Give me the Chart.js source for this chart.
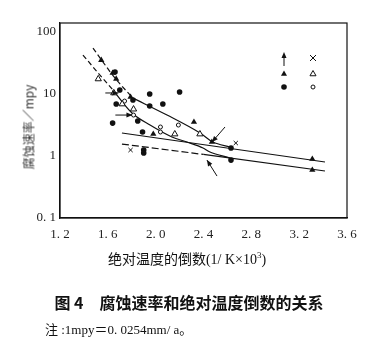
<!DOCTYPE html>
<html><head><meta charset="utf-8">
<script src="https://cdn.jsdelivr.net/npm/chart.js@4"></script>
<style>
html,body{margin:0;padding:0;background:#fff;}
#wrap{position:relative;width:382px;height:344px;overflow:hidden;}
canvas{position:absolute;left:0;top:0;}
.t{position:absolute;white-space:nowrap;color:#111;font-family:"Liberation Serif","Noto Sans CJK SC",serif;}
#ytitle{left:28px;top:127px;font-size:12px;color:#333;transform:translate(-50%,-50%) rotate(-90deg);font-family:"Noto Sans CJK SC",sans-serif;}
#xtitle{left:187px;top:258px;font-size:14px;transform:translate(-50%,-50%);}
#xtitle sup{font-size:9px;vertical-align:6px;line-height:0;}
#cap{left:189px;top:302px;font-size:16px;font-weight:bold;transform:translate(-50%,-50%);font-family:"Noto Sans CJK SC",sans-serif;}
#note{left:45px;top:328px;font-size:13px;transform:translate(0,-50%);}
</style></head><body>
<div id="wrap">
<canvas id="c" width="382" height="344"></canvas>
<div class="t" id="ytitle">腐蚀速率／mpy</div>
<div class="t" id="xtitle">绝对温度的倒数(1/ K×10<sup>3</sup>)</div>
<div class="t" id="cap">图 4　腐蚀速率和绝对温度倒数的关系</div>
<div class="t" id="note">注 :1mpy＝0. 0254mm/ a。</div>
</div>
<script>
const xTicks = [1.2, 1.6, 2.0, 2.4, 2.8, 3.2, 3.6];
const xTickLabels = ["1. 2", "1. 6", "2. 0", "2. 4", "2. 8", "3. 2", "3. 6"];
const yTicks = [0.1, 1, 10, 100];
const yTickLabels = ["0. 1", "1", "10", "100"];

const solidCircleX = [1.66, 1.70, 1.95, 2.20, 1.95, 2.06, 1.67, 1.81, 1.64, 1.85, 1.89, 1.90, 1.90, 2.63, 2.63];
const solidCircleY = [22.6, 11.6, 10.0, 10.8, 6.4, 6.9, 6.9, 8.0, 3.4, 3.67, 2.44, 1.25, 1.12, 0.86, 1.35];
const solidTriX = [1.545, 1.64, 1.67, 1.79, 2.32, 1.98, 2.47, 3.31, 3.31];
const solidTriY = [35.3, 21.8, 17.5, 8.95, 3.54, 2.26, 1.68, 0.895, 0.594];
const openTriX = [1.52, 1.65, 1.72, 1.815, 2.16, 2.37];
const openTriY = [17.5, 10.4, 6.9, 5.7, 2.26, 2.26];
const openCircleX = [2.04, 2.04, 2.19, 1.74, 1.815];
const openCircleY = [2.94, 2.44, 3.16, 7.7, 4.58];
const crossX = [1.79, 2.67];
const crossY = [1.25, 1.62];

const upperDashX = [1.476, 1.66, 1.81];
const upperDashY = [55, 18.1, 8.6];
const upperCurveX = [1.81, 2.095, 2.371, 2.479, 2.621];
const upperCurveY = [8.6, 4.58, 2.35, 1.68, 1.40];
const lowerDashX = [1.392, 1.534, 1.643];
const lowerDashY = [42.6, 20.2, 11.6];
const lowerCurveX = [1.643, 1.802, 1.953, 2.136, 2.262, 2.396, 2.454, 2.621];
const lowerCurveY = [11.6, 4.94, 3.16, 2.03, 1.68, 1.35, 1.16, 0.93];
const lineAX = [1.718, 3.416];
const lineAY = [2.35, 0.80];
const lineBDashX = [1.718, 2.40];
const lineBDashY = [1.56, 1.06];
const lineBX = [2.40, 3.416];
const lineBY = [1.06, 0.573];

const arrow1X = [1.579, 1.688], arrow1Y = [10.4, 10.4];
const arrow2X = [1.663, 1.806], arrow2Y = [4.58, 4.58];
const arrow3X = [2.58, 2.471], arrow3Y = [2.94, 1.68];
const arrow4X = [2.513, 2.429], arrow4Y = [0.475, 0.86];

const pts = (xs, ys) => xs.map((x, i) => ({x, y: ys[i]}));
const INK = '#111';

function lineDs(xs, ys, dash, tension) {
  return {type: 'line', data: pts(xs, ys), borderColor: INK, borderWidth: 1.2,
    borderDash: dash || [], pointRadius: 0, tension: tension || 0,
    cubicInterpolationMode: 'monotone', fill: false};
}
function arrowDs(xs, ys) {
  const d = lineDs(xs, ys, [], 0); d.isArrow = true; d.borderWidth = 1; return d;
}
function markDs(xs, ys, style, r, fillC, bw) {
  return {type: 'scatter', data: pts(xs, ys), pointStyle: style, pointRadius: r,
    backgroundColor: fillC, borderColor: INK, borderWidth: bw};
}

function drawHead(ctx, x, y, ang, len, half) {
  ctx.save(); ctx.translate(x, y); ctx.rotate(ang);
  ctx.beginPath(); ctx.moveTo(0, 0); ctx.lineTo(-len, -half); ctx.lineTo(-len, half); ctx.closePath();
  ctx.fillStyle = INK; ctx.fill(); ctx.restore();
}
function tri(ctx, x, y, r, filled) {
  ctx.beginPath();
  ctx.moveTo(x, y - r); ctx.lineTo(x + r * 0.866, y + r * 0.5); ctx.lineTo(x - r * 0.866, y + r * 0.5); ctx.closePath();
  if (filled) { ctx.fillStyle = INK; ctx.fill(); } else { ctx.fillStyle = '#fff'; ctx.fill(); ctx.stroke(); }
}

const framePlugin = {
  id: 'frame',
  afterDatasetsDraw(chart) {
    const {ctx, chartArea: a} = chart;
    ctx.save();
    ctx.strokeStyle = INK; ctx.lineWidth = 1.2;
    ctx.strokeRect(a.left, a.top, a.right - a.left, a.bottom - a.top);
    chart.data.datasets.forEach((ds, i) => {
      if (!ds.isArrow) return;
      const p = chart.getDatasetMeta(i).data;
      const ang = Math.atan2(p[1].y - p[0].y, p[1].x - p[0].x);
      drawHead(ctx, p[1].x, p[1].y, ang, 6, 2.5);
    });
    const lx1 = a.left + 224, lx2 = a.left + 253;
    ctx.lineWidth = 1;
    ctx.beginPath(); ctx.moveTo(lx1, a.top + 43); ctx.lineTo(lx1, a.top + 32); ctx.stroke();
    drawHead(ctx, lx1, a.top + 29, -Math.PI / 2, 6, 2.5);
    ctx.beginPath();
    ctx.moveTo(lx2 - 3, a.top + 32); ctx.lineTo(lx2 + 3, a.top + 38);
    ctx.moveTo(lx2 + 3, a.top + 32); ctx.lineTo(lx2 - 3, a.top + 38);
    ctx.stroke();
    tri(ctx, lx1, a.top + 51, 3.5, true);
    tri(ctx, lx2, a.top + 51, 3.5, false);
    ctx.beginPath(); ctx.arc(lx1, a.top + 64, 2.8, 0, Math.PI * 2); ctx.fillStyle = INK; ctx.fill();
    ctx.beginPath(); ctx.arc(lx2, a.top + 64, 2, 0, Math.PI * 2); ctx.fillStyle = '#fff'; ctx.fill(); ctx.stroke();
    ctx.restore();
  }
};

const tickFont = {family: '"Liberation Serif", serif', size: 13};

new Chart(document.getElementById('c'), {
  type: 'scatter',
  data: {datasets: [
    markDs(solidCircleX, solidCircleY, 'circle', 2.8, INK, 0),
    markDs(solidTriX, solidTriY, 'triangle', 3.6, INK, 0),
    markDs(openTriX, openTriY, 'triangle', 3.6, '#fff', 1),
    markDs(openCircleX, openCircleY, 'circle', 2, '#fff', 1),
    markDs(crossX, crossY, 'crossRot', 3, INK, 1),
    lineDs(upperDashX, upperDashY, [5, 3], 0.4),
    lineDs(upperCurveX, upperCurveY, [], 0.4),
    lineDs(lowerDashX, lowerDashY, [5, 3], 0.4),
    lineDs(lowerCurveX, lowerCurveY, [], 0.4),
    lineDs(lineAX, lineAY, [], 0),
    lineDs(lineBDashX, lineBDashY, [7, 3], 0),
    lineDs(lineBX, lineBY, [], 0),
    arrowDs(arrow1X, arrow1Y),
    arrowDs(arrow2X, arrow2Y),
    arrowDs(arrow3X, arrow3Y),
    arrowDs(arrow4X, arrow4Y)
  ]},
  options: {
    responsive: false, animation: false, devicePixelRatio: 1,
    layout: {padding: {top: 23, right: 35, left: 0, bottom: 0}},
    plugins: {legend: {display: false}, tooltip: {enabled: false}},
    scales: {
      x: {type: 'linear', min: 1.2, max: 3.6,
        afterBuildTicks: s => { s.ticks = xTicks.map(v => ({value: v})); },
        afterFit: s => { s.height = 126; },
        ticks: {callback: (v, i) => xTickLabels[i], font: tickFont, color: '#222', padding: 9, maxRotation: 0, autoSkip: false},
        grid: {drawOnChartArea: false, drawTicks: false},
        border: {color: INK, width: 1.2}},
      y: {type: 'logarithmic', min: 0.1, max: 140,
        afterBuildTicks: s => { s.ticks = yTicks.map(v => ({value: v})); },
        afterFit: s => { s.width = 60; },
        ticks: {callback: (v, i) => yTickLabels[i], font: tickFont, color: '#222', padding: 4, autoSkip: false},
        grid: {drawOnChartArea: false, drawTicks: false},
        border: {color: INK, width: 1.2}}
    }
  },
  plugins: [framePlugin]
});
</script>
</body></html>
